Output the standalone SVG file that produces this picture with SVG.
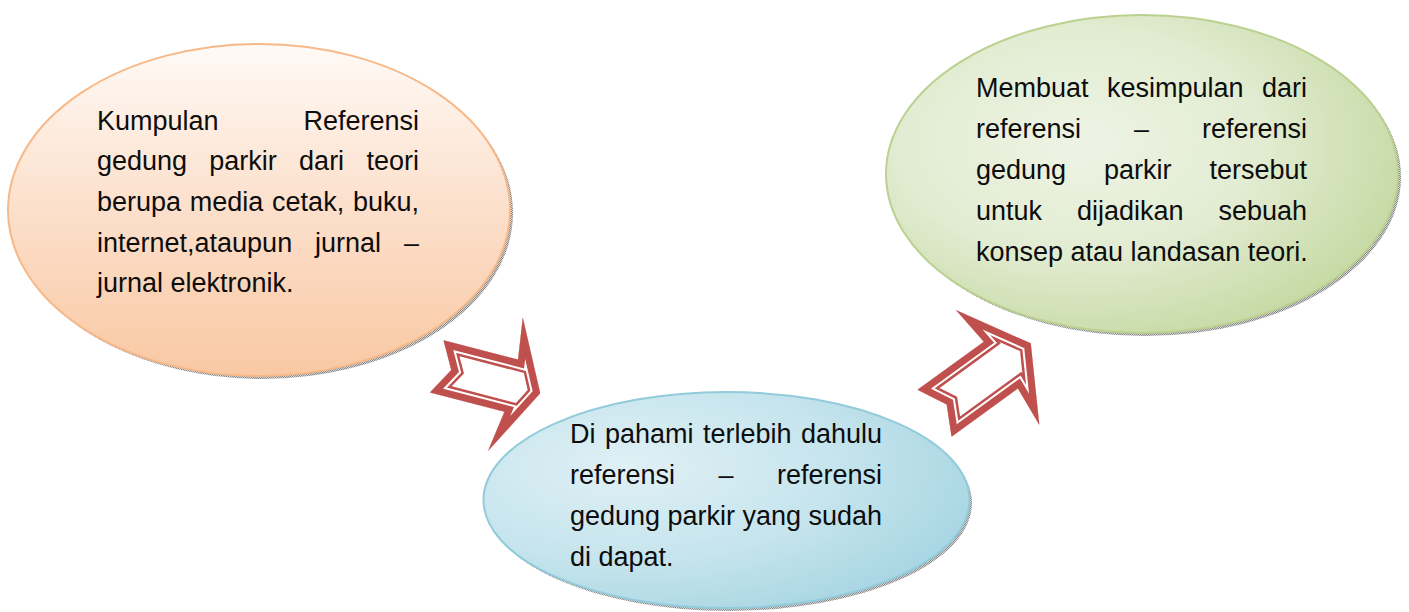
<svg xmlns="http://www.w3.org/2000/svg" xmlns:xlink="http://www.w3.org/1999/xlink" width="1409" height="612" viewBox="0 0 1409 612">
  <style>
    .t { font-family: "Liberation Sans", Arial, sans-serif; font-size: 27px; fill: #0d0d0d; }
    .e { text-anchor: end; }
  </style>
  <defs>
    <pattern id="dots" width="2" height="2" patternUnits="userSpaceOnUse">
      <rect width="2" height="2" fill="#d4d4d4"/>
      <rect width="1" height="1" fill="#8a8a8a"/>
      <rect x="1" y="1" width="1" height="1" fill="#8a8a8a"/>
    </pattern>
    <linearGradient id="gOrange" x1="0" y1="0" x2="0" y2="1">
      <stop offset="0" stop-color="#fffaf6"/>
      <stop offset="0.45" stop-color="#fce2cf"/>
      <stop offset="1" stop-color="#f9c8a3"/>
    </linearGradient>
    <radialGradient id="gGreen" cx="0.38" cy="0.4" r="0.7">
      <stop offset="0" stop-color="#eef4e5"/>
      <stop offset="0.5" stop-color="#e2ecd2"/>
      <stop offset="1" stop-color="#c3d79e"/>
    </radialGradient>
    <radialGradient id="gBlue" cx="0.3" cy="0.35" r="0.8">
      <stop offset="0" stop-color="#e0f0f5"/>
      <stop offset="0.55" stop-color="#c5e4ed"/>
      <stop offset="1" stop-color="#a3d4e1"/>
    </radialGradient>
    <path id="arrA" d="M0,-27 L77,-27 L71,-69 L107,0 L71,69 L77,27 L0,27 L15,0 Z"/>
    <path id="arrB" d="M0,-29 L82,-29 L78,-71 L119,0 L78,71 L82,29 L0,29 L15,0 Z"/>
    <clipPath id="clipA"><use xlink:href="#arrA"/></clipPath>
    <clipPath id="clipB"><use xlink:href="#arrB"/></clipPath>
  </defs>

  <rect width="1409" height="612" fill="#ffffff"/>

  <g id="node-left">
    <ellipse cx="262" cy="213" rx="251" ry="166" fill="url(#dots)"/>
    <ellipse cx="259" cy="210" rx="251" ry="166" fill="url(#gOrange)" stroke="#f7b888" stroke-width="2"/>
    <text class="t" x="97" y="129.5">Kumpulan</text>
    <text class="t e" x="419" y="129.5">Referensi</text>
    <text class="t" x="97" y="170.2">gedung</text>
    <text class="t" x="209.3" y="170.2">parkir</text>
    <text class="t" x="299.1" y="170.2">dari</text>
    <text class="t e" x="419" y="170.2">teori</text>
    <text class="t" x="97" y="210.9">berupa</text>
    <text class="t" x="189.8" y="210.9">media</text>
    <text class="t" x="272.1" y="210.9">cetak,</text>
    <text class="t e" x="419" y="210.9">buku,</text>
    <text class="t" x="97" y="251.6">internet,ataupun</text>
    <text class="t" x="315" y="251.6">jurnal</text>
    <text class="t e" x="419" y="251.6">–</text>
    <text class="t" x="97" y="292.3">jurnal elektronik.</text>
  </g>

  <g id="node-right">
    <ellipse cx="1145" cy="177" rx="256" ry="159" fill="url(#dots)"/>
    <ellipse cx="1142" cy="174" rx="256" ry="159" fill="url(#gGreen)" stroke="#bad18f" stroke-width="2"/>
    <text class="t" x="976" y="97">Membuat</text>
    <text class="t" x="1107" y="97">kesimpulan</text>
    <text class="t e" x="1307" y="97">dari</text>
    <text class="t" x="976" y="138">referensi</text>
    <text class="t" x="1134" y="138">–</text>
    <text class="t e" x="1307" y="138">referensi</text>
    <text class="t" x="976" y="179">gedung</text>
    <text class="t" x="1104" y="179">parkir</text>
    <text class="t e" x="1307" y="179">tersebut</text>
    <text class="t" x="976" y="220">untuk</text>
    <text class="t" x="1077" y="220">dijadikan</text>
    <text class="t e" x="1307" y="220">sebuah</text>
    <text class="t" x="976" y="261">konsep atau landasan teori.</text>
  </g>

  <g id="node-middle">
    <ellipse cx="729" cy="503" rx="243" ry="108" fill="url(#dots)"/>
    <ellipse cx="726.5" cy="500" rx="243" ry="108" fill="url(#gBlue)" stroke="#92cbdb" stroke-width="2"/>
    <text class="t" x="570" y="443">Di</text>
    <text class="t" x="605" y="443">pahami</text>
    <text class="t" x="703" y="443">terlebih</text>
    <text class="t e" x="882" y="443">dahulu</text>
    <text class="t" x="570" y="484">referensi</text>
    <text class="t" x="718.5" y="484">–</text>
    <text class="t e" x="882" y="484">referensi</text>
    <text class="t" x="570" y="525">gedung</text>
    <text class="t" x="667.5" y="525">parkir</text>
    <text class="t" x="742.5" y="525">yang</text>
    <text class="t e" x="882" y="525">sudah</text>
    <text class="t" x="570" y="566">di dapat.</text>
  </g>

  <g id="connectors">
    <g id="arrow-1" transform="translate(436.7,366.3) rotate(14.6)">
      <g clip-path="url(#clipA)">
        <use xlink:href="#arrA" fill="#ffffff" stroke="#c0504d" stroke-width="23" stroke-linejoin="miter" stroke-miterlimit="10"/>
        <use xlink:href="#arrA" fill="none" stroke="#ffffff" stroke-width="18" stroke-linejoin="miter" stroke-miterlimit="10"/>
        <use xlink:href="#arrA" fill="none" stroke="#c0504d" stroke-width="14" stroke-linejoin="miter" stroke-miterlimit="10"/>
      </g>
    </g>
    <g id="arrow-2" transform="translate(934.5,413.3) rotate(-36)">
      <g clip-path="url(#clipB)">
        <use xlink:href="#arrB" fill="#ffffff" stroke="#c0504d" stroke-width="23" stroke-linejoin="miter" stroke-miterlimit="10"/>
        <use xlink:href="#arrB" fill="none" stroke="#ffffff" stroke-width="18" stroke-linejoin="miter" stroke-miterlimit="10"/>
        <use xlink:href="#arrB" fill="none" stroke="#c0504d" stroke-width="14" stroke-linejoin="miter" stroke-miterlimit="10"/>
      </g>
    </g>
  </g>
</svg>
